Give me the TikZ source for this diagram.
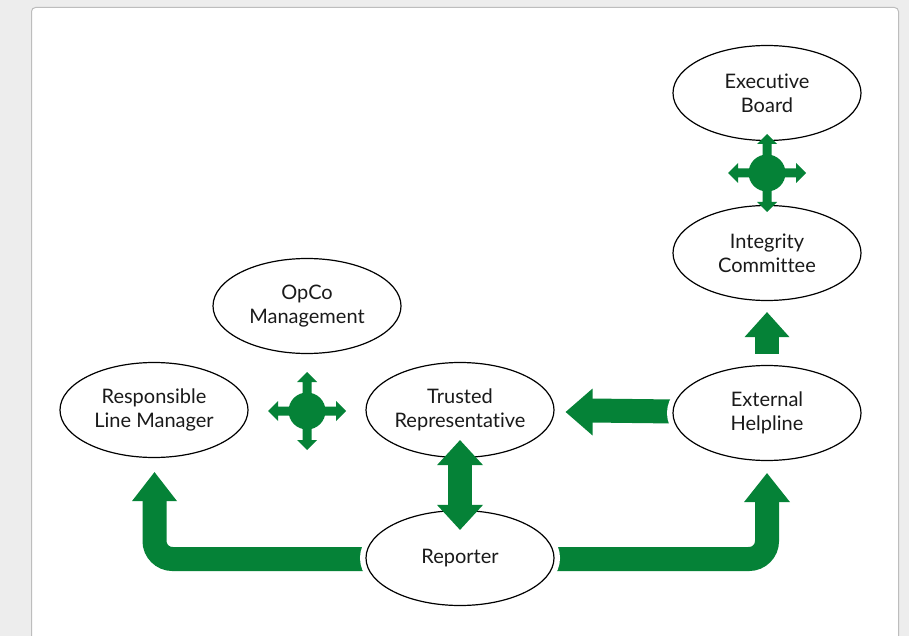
\documentclass[tikz,border=0pt]{standalone}
\usepackage{fontspec}
\setmainfont{Lato}[Ligatures={NoCommon,NoRare}]
\usetikzlibrary{shapes.geometric,calc,backgrounds}

\definecolor{pagegrey}{HTML}{EDEDED}
\definecolor{cardedge}{HTML}{BDBDBD}
\definecolor{flowgreen}{RGB}{5,130,55}
\definecolor{inkblack}{HTML}{1A1A1A}

\tikzset{
  party/.style={ellipse, draw=black, line width=1.2pt, fill=white,
    minimum width=188pt, minimum height=95pt, inner sep=0pt,
    preaction={draw=white, line width=12pt},
    text=inkblack, align=center,
    font=\fontsize{20pt}{24pt}\selectfont},
  shaft/.style={draw=flowgreen, line width=24pt, line cap=butt},
  greenfill/.style={fill=flowgreen},
  compass/.pic={
    \fill[greenfill] (0,0) circle (18.5pt);
    \foreach \a in {0,90,180,270}{
      \fill[greenfill, rotate=\a] (0,-4.5) -- (29,-4.5) -- (29,-10) -- (39,0)
        -- (29,10) -- (29,4.5) -- (0,4.5) -- cycle;
    }
  }
}

\begin{document}
\begin{tikzpicture}[x=1pt, y=-1pt]
  \useasboundingbox (0,0) rectangle (909,636);
  \clip (0,0) rectangle (909,636);

  % the parties
  \node[party] (ex)  at (767,93)  {Executive\\Board};
  \node[party] (ic)  at (767,253) {Integrity\\Committee};
  \node[party] (op)  at (307,306) {OpCo\\Management};
  \node[party] (lm)  at (154,410) {Responsible\\Line Manager};
  \node[party] (tr)  at (460,410) {Trusted\\Representative};
  \node[party] (eh)  at (767,413) {External\\Helpline};
  \node[party] (rep) at (460,558) {Reporter};

  \begin{scope}[on background layer]
    % page and card
    \fill[pagegrey] (0,0) rectangle (909,636);
    \draw[cardedge, fill=white, line width=1pt, rounded corners=4pt]
      (31.5,660) -- (31.5,7.5) -- (898.5,7.5) -- (898.5,660);

    % Reporter to Responsible Line Manager
    \coordinate (tipL) at ($(lm.south)+(0.5,14)$);
    \draw[shaft, rounded corners=18pt] ($(rep.west)+(2,1)$) -| ($(tipL)+(0,27)$);
    \fill[greenfill, shift={(tipL)}] (-22.5,29) -- (0,0) -- (22.5,29) -- cycle;

    % Reporter to External Helpline
    \coordinate (tipR) at ($(eh.south)+(0,12)$);
    \draw[shaft, rounded corners=18pt] ($(rep.east)+(-2,1)$) -| ($(tipR)+(0,27)$);
    \fill[greenfill, shift={(tipR)}] (-23,29) -- (0,0) -- (23,29) -- cycle;

    % External Helpline to Trusted Representative
    \coordinate (tipH) at ($(tr.east)+(11,2)$);
    \draw[shaft] ($(eh.west)+(2,-1.5)$) -- ($(tipH)+(25,-1.5)$);
    \fill[greenfill, shift={(tipH)}] (27,-23.5) -- (0,0) -- (27,23.5) -- cycle;

    % External Helpline to Integrity Committee
    \coordinate (tipU) at ($(ic.south)+(0,11)$);
    \draw[shaft] ($(eh.north)+(0,-11)$) -- ($(tipU)+(0,23)$);
    \fill[greenfill, shift={(tipU)}] (-22.5,25) -- (0,0) -- (22.5,25) -- cycle;
  \end{scope}

  % Trusted Representative <-> Reporter
  \coordinate (tipT) at ($(tr.south)+(0,-18)$);
  \coordinate (tipB) at ($(rep.north)+(0,20)$);
  \draw[shaft] ($(tipT)+(0,23)$) -- ($(tipB)+(0,-23)$);
  \fill[greenfill, shift={(tipT)}] (-23,25) -- (0,0) -- (23,25) -- cycle;
  \fill[greenfill, shift={(tipB)}] (-23,-25) -- (0,0) -- (23,-25) -- cycle;

  % two-way exchanges
  \pic at ($(lm)!0.5!(tr)+(0,1)$) {compass};
  \pic at ($(ex)!0.5!(ic)$) {compass};
\end{tikzpicture}
\end{document}
